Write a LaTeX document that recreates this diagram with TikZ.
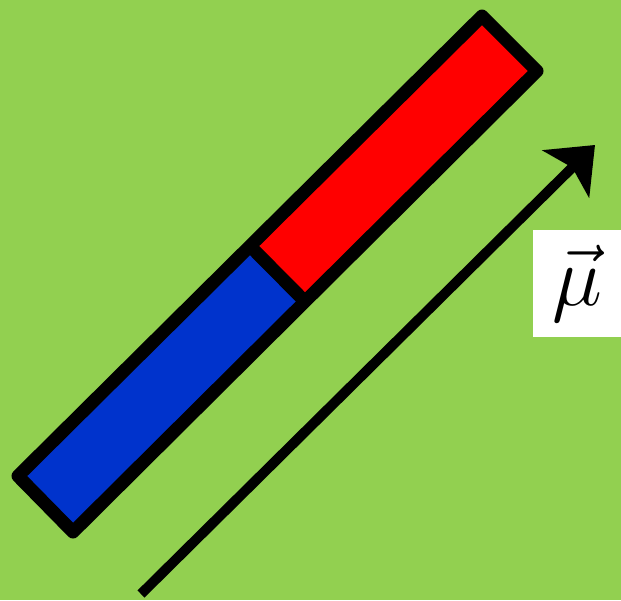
\documentclass[tikz,border=0pt]{standalone}
\usepackage{amsmath}
\usepackage{graphicx}
\usepackage{tikz}
\usepackage{xcolor}
\usetikzlibrary{arrows.meta,calc}
\definecolor{fieldgreen}{HTML}{92D050}
\definecolor{northred}{HTML}{FF0000}
\definecolor{southblue}{HTML}{0033CC}
\tikzset{
  outline/.style={line width=13pt, draw=black, line join=round},
  moment/.style={-{Stealth[length=41pt, width=66pt, inset=9pt]}, line width=10pt, draw=black},
  tag/.style={
    rectangle,
    fill=white,
    inner sep=0pt,
    minimum width=88pt,
    minimum height=107pt
  }
}
\begin{document}
\begin{tikzpicture}[x=1pt, y=-1pt]
  \clip (0,0) rectangle (621,600);
  \fill[fieldgreen] (0,0) rectangle (621,600);

  % magnet corners
  \coordinate (lft) at (18,476);
  \coordinate (bot) at (73,532);
  \coordinate (top) at (482,16);
  \coordinate (rgt) at (537,71);
  \coordinate (midtop) at ($(lft)!0.5!(top)$);
  \coordinate (midbot) at ($(bot)!0.5!(rgt)$);

  \fill[southblue] (lft) -- (midtop) -- (midbot) -- (bot) -- cycle;
  \fill[northred] (midtop) -- (top) -- (rgt) -- (midbot) -- cycle;
  \draw[outline] (lft) -- (top) -- (rgt) -- (bot) -- cycle;
  \draw[outline] (midtop) -- (midbot);

  % dipole moment
  \coordinate (tail) at (141,594);
  \coordinate (head) at (595,145);
  \draw[moment] (tail) -- (head);
  \node[tag] (mu) at (577,283.5) {\scalebox{3.4}{\Huge$\vec{\mu}$}};
\end{tikzpicture}
\end{document}
